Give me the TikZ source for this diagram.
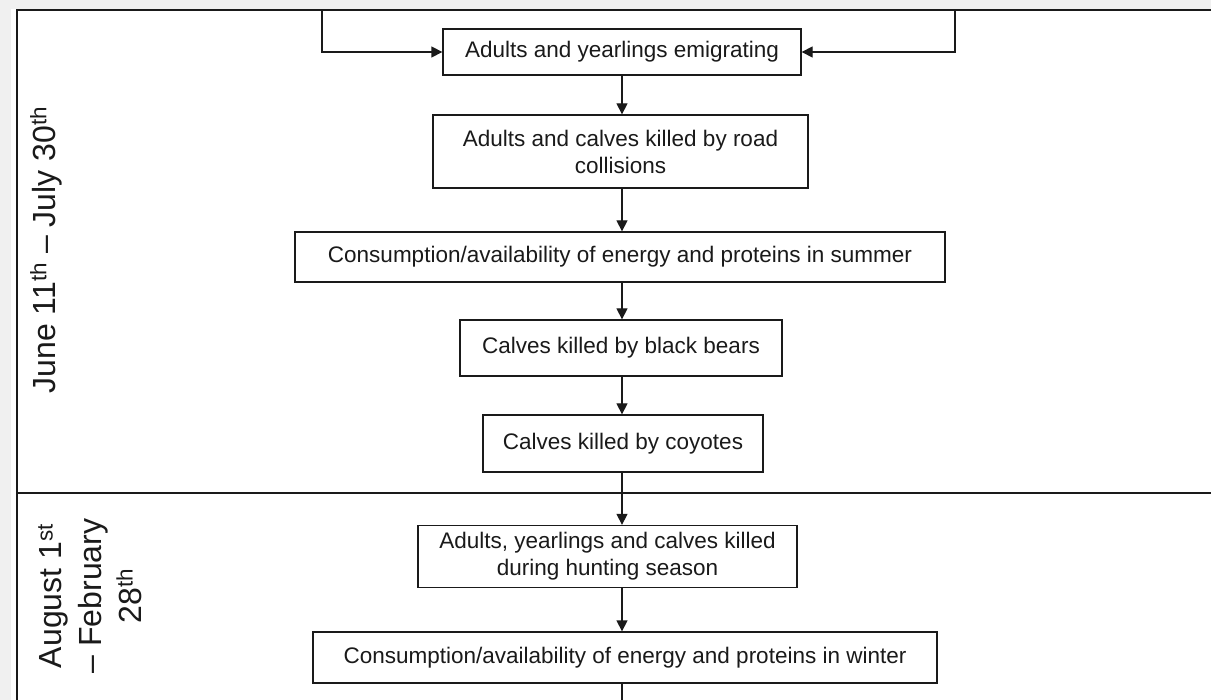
\documentclass[tikz,border=0pt]{standalone}
\usepackage{fontspec}
\setmainfont{Liberation Sans}
\usetikzlibrary{arrows.meta}
\definecolor{pagegray}{HTML}{F0F0F0}
\definecolor{ink}{HTML}{1A1A1A}
\begin{document}
\begin{tikzpicture}[x=1pt,y=-1pt,
  stage/.style={draw=ink, line width=1.3pt, fill=white, inner sep=0pt,
    text=ink, align=center, font=\fontsize{22.5}{27}\selectfont},
  flow/.style={draw=ink, line width=1.3pt, -{Triangle[length=11pt,width=11pt]}},
  frame/.style={draw=ink, line width=1.6pt},
  season/.style={rotate=90, align=center, inner sep=0pt, text=ink,
    font=\fontsize{32}{40}\selectfont}]
\useasboundingbox (0,0) rectangle (1211,700);

% page and season frame
\fill[pagegray] (0,0) rectangle (1211,700);
\fill[white] (11,9) rectangle (1211,700);
\draw[frame, line width=2pt] (17,700) -- (17,10) -- (1211,10);
\draw[frame] (17,493) -- (1211,493);

% stages
\node[stage, minimum width=358pt, minimum height=46pt] (emig) at (622,52)
  {Adults and yearlings emigrating};
\node[stage, minimum width=375pt, minimum height=73pt] (road) at (620.5,151.5)
  {Adults and calves killed by road\\collisions};
\node[stage, minimum width=650pt, minimum height=50pt] (summer) at (620,257)
  {Consumption/availability of energy and proteins in summer};
\node[stage, minimum width=322pt, minimum height=56pt] (bears) at (621,348)
  {Calves killed by black bears};
\node[stage, minimum width=280pt, minimum height=57pt] (coyote) at (623,443.5)
  {Calves killed by coyotes};
\node[stage, minimum width=379pt, minimum height=62pt] (hunt) at (607.5,556.5)
  {Adults, yearlings and calves killed\\during hunting season};
\node[stage, minimum width=624pt, minimum height=51pt] (winter) at (625,657.5)
  {Consumption/availability of energy and proteins in winter};

% connector anchors
\coordinate (spine) at (622,0);
\coordinate (inL) at (322,10);
\coordinate (inR) at (955,10);
\coordinate (out) at (622,700);

\draw[flow] (inL) |- (emig.west);
\draw[flow] (inR) |- (emig.east);
\foreach \a/\b in {emig/road, road/summer, summer/bears, bears/coyote,
                   coyote/hunt, hunt/winter}
  \draw[flow] (\a.south -| spine) -- (\b.north -| spine);
\draw[draw=ink, line width=1.3pt] (winter.south -| spine) -- (out);

% season labels
\node[season] (summerSeason) at (46,250)
  {June 11\textsuperscript{th} – July 30\textsuperscript{th}};
\node[season] (winterSeason) at (90,596)
  {August 1\textsuperscript{st}\\– February\\28\textsuperscript{th}};
\end{tikzpicture}
\end{document}
